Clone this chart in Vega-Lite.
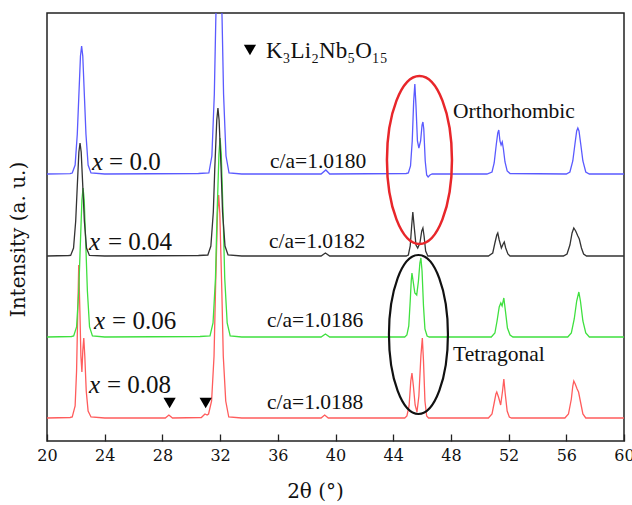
{
  "$schema": "https://vega.github.io/schema/vega-lite/v6.json",
  "width": 577,
  "height": 428,
  "autosize": {"type": "none"},
  "padding": {"left": 47, "top": 13, "right": 8, "bottom": 64},
  "background": "white",
  "config": {
    "view": {"stroke": "#222222", "strokeWidth": 1.5},
    "font": "Liberation Serif"
  },
  "datasets": {
    "red": [
      {"t":20,"i":23},{"t":21.6,"i":23.5},{"t":21.75,"i":24},{"t":21.95,"i":35},{"t":22.05,"i":70},{"t":22.12,"i":120},{"t":22.2,"i":176},{"t":22.28,"i":130},{"t":22.35,"i":85},{"t":22.42,"i":69},{"t":22.48,"i":90},{"t":22.55,"i":103},{"t":22.62,"i":85},{"t":22.72,"i":50},{"t":22.85,"i":30},{"t":23.05,"i":24},{"t":24,"i":23},{"t":28.2,"i":23},{"t":28.45,"i":26},{"t":28.7,"i":23},{"t":30.7,"i":23.5},{"t":30.95,"i":27},{"t":31.1,"i":26},{"t":31.2,"i":27},{"t":31.41,"i":40},{"t":31.58,"i":85},{"t":31.68,"i":150},{"t":31.82,"i":228},{"t":31.9,"i":246},{"t":31.98,"i":228},{"t":32.12,"i":150},{"t":32.22,"i":85},{"t":32.39,"i":40},{"t":32.6,"i":24},{"t":33.5,"i":23},{"t":39.0,"i":23},{"t":39.25,"i":26},{"t":39.5,"i":23},{"t":44.8,"i":23},{"t":44.95,"i":25},{"t":45.1,"i":35},{"t":45.22,"i":60},{"t":45.3,"i":68},{"t":45.4,"i":55},{"t":45.52,"i":36},{"t":45.65,"i":29},{"t":45.78,"i":45},{"t":45.92,"i":85},{"t":46.02,"i":103},{"t":46.1,"i":80},{"t":46.2,"i":40},{"t":46.32,"i":25},{"t":46.45,"i":23},{"t":50.6,"i":23},{"t":50.85,"i":27},{"t":51.0,"i":38},{"t":51.12,"i":47},{"t":51.18,"i":49},{"t":51.3,"i":44},{"t":51.45,"i":36},{"t":51.58,"i":50},{"t":51.67,"i":62},{"t":51.76,"i":48},{"t":51.9,"i":30},{"t":52.05,"i":24},{"t":52.2,"i":23},{"t":55.9,"i":23},{"t":56.15,"i":27},{"t":56.35,"i":42},{"t":56.45,"i":55},{"t":56.52,"i":60},{"t":56.62,"i":57},{"t":56.75,"i":52},{"t":56.85,"i":49},{"t":57.0,"i":38},{"t":57.15,"i":27},{"t":57.35,"i":23},{"t":60,"i":23}
    ],
    "green": [
      {"t":20,"i":104},{"t":21.7,"i":104.5},{"t":21.85,"i":105},{"t":22.05,"i":114},{"t":22.2,"i":150},{"t":22.3,"i":192},{"t":22.42,"i":241},{"t":22.5,"i":253},{"t":22.58,"i":241},{"t":22.7,"i":192},{"t":22.8,"i":150},{"t":22.95,"i":114},{"t":23.15,"i":105},{"t":24,"i":104},{"t":30.6,"i":104.5},{"t":31.3,"i":105},{"t":31.51,"i":118},{"t":31.68,"i":163},{"t":31.78,"i":221},{"t":31.92,"i":287},{"t":32.0,"i":303},{"t":32.08,"i":287},{"t":32.22,"i":221},{"t":32.32,"i":163},{"t":32.49,"i":118},{"t":32.7,"i":105},{"t":33.5,"i":104},{"t":39.0,"i":104},{"t":39.3,"i":107},{"t":39.6,"i":104},{"t":44.8,"i":104},{"t":44.95,"i":106},{"t":45.08,"i":115},{"t":45.18,"i":140},{"t":45.25,"i":160},{"t":45.3,"i":168},{"t":45.38,"i":160},{"t":45.5,"i":148},{"t":45.63,"i":146},{"t":45.75,"i":160},{"t":45.85,"i":178},{"t":45.92,"i":183},{"t":46.0,"i":170},{"t":46.1,"i":135},{"t":46.2,"i":112},{"t":46.35,"i":105},{"t":46.5,"i":104},{"t":50.8,"i":104},{"t":51.05,"i":108},{"t":51.2,"i":120},{"t":51.35,"i":134},{"t":51.46,"i":138},{"t":51.55,"i":135},{"t":51.67,"i":143},{"t":51.78,"i":130},{"t":51.92,"i":113},{"t":52.1,"i":106},{"t":52.3,"i":104},{"t":56.1,"i":104},{"t":56.35,"i":108},{"t":56.55,"i":122},{"t":56.72,"i":140},{"t":56.87,"i":149},{"t":56.98,"i":140},{"t":57.15,"i":120},{"t":57.35,"i":108},{"t":57.6,"i":104},{"t":60,"i":104}
    ],
    "black": [
      {"t":20,"i":185},{"t":21.5,"i":185.5},{"t":21.64,"i":185.6},{"t":21.84,"i":193},{"t":21.99,"i":220},{"t":22.09,"i":252},{"t":22.21,"i":289},{"t":22.29,"i":298},{"t":22.37,"i":289},{"t":22.49,"i":252},{"t":22.59,"i":220},{"t":22.74,"i":193},{"t":22.94,"i":185.6},{"t":24,"i":185},{"t":30.5,"i":185.5},{"t":31.15,"i":186},{"t":31.36,"i":195},{"t":31.53,"i":229},{"t":31.63,"i":272},{"t":31.77,"i":321},{"t":31.85,"i":333},{"t":31.93,"i":321},{"t":32.07,"i":272},{"t":32.17,"i":229},{"t":32.34,"i":195},{"t":32.55,"i":186},{"t":33.5,"i":185},{"t":39.0,"i":185},{"t":39.3,"i":188},{"t":39.6,"i":185},{"t":44.9,"i":185},{"t":45.05,"i":186},{"t":45.18,"i":195},{"t":45.28,"i":215},{"t":45.36,"i":229},{"t":45.45,"i":215},{"t":45.58,"i":196},{"t":45.7,"i":193},{"t":45.85,"i":198},{"t":45.98,"i":210},{"t":46.06,"i":213},{"t":46.14,"i":205},{"t":46.25,"i":190},{"t":46.4,"i":185},{"t":50.6,"i":185},{"t":50.9,"i":188},{"t":51.05,"i":198},{"t":51.18,"i":206},{"t":51.25,"i":208},{"t":51.35,"i":201},{"t":51.5,"i":193},{"t":51.62,"i":197},{"t":51.7,"i":199},{"t":51.8,"i":193},{"t":51.95,"i":187},{"t":52.1,"i":185},{"t":55.8,"i":185},{"t":56.05,"i":187},{"t":56.25,"i":196},{"t":56.4,"i":208},{"t":56.52,"i":213},{"t":56.65,"i":210},{"t":56.8,"i":205},{"t":56.9,"i":202},{"t":57.05,"i":193},{"t":57.2,"i":187},{"t":57.4,"i":185},{"t":60,"i":185}
    ],
    "blue": [
      {"t":20,"i":267},{"t":21.6,"i":267.3},{"t":21.75,"i":268},{"t":21.95,"i":276},{"t":22.1,"i":307},{"t":22.2,"i":342.5},{"t":22.32,"i":385},{"t":22.4,"i":395},{"t":22.48,"i":385},{"t":22.6,"i":342.5},{"t":22.7,"i":307},{"t":22.85,"i":276},{"t":23.05,"i":268},{"t":24,"i":267},{"t":30.5,"i":267.5},{"t":31.22,"i":268},{"t":31.43,"i":285},{"t":31.6,"i":347},{"t":31.7,"i":420},{"t":31.84,"i":506},{"t":31.92,"i":527},{"t":32.0,"i":506},{"t":32.14,"i":420},{"t":32.24,"i":347},{"t":32.41,"i":285},{"t":32.62,"i":268},{"t":33.5,"i":267},{"t":39.0,"i":267},{"t":39.33,"i":271},{"t":39.6,"i":267},{"t":44.9,"i":267.5},{"t":45.05,"i":268},{"t":45.2,"i":275},{"t":45.32,"i":300},{"t":45.42,"i":340},{"t":45.5,"i":357},{"t":45.58,"i":335},{"t":45.68,"i":300},{"t":45.78,"i":293},{"t":45.9,"i":300},{"t":46.0,"i":316},{"t":46.06,"i":319},{"t":46.12,"i":312},{"t":46.22,"i":280},{"t":46.32,"i":266},{"t":46.42,"i":264},{"t":46.55,"i":266},{"t":46.7,"i":267},{"t":50.5,"i":267},{"t":50.85,"i":269},{"t":51.0,"i":278},{"t":51.15,"i":297},{"t":51.25,"i":308},{"t":51.32,"i":311},{"t":51.4,"i":300},{"t":51.48,"i":296},{"t":51.56,"i":299},{"t":51.64,"i":292},{"t":51.75,"i":279},{"t":51.9,"i":270},{"t":52.1,"i":267.5},{"t":56.0,"i":267},{"t":56.25,"i":269},{"t":56.45,"i":280},{"t":56.6,"i":297},{"t":56.72,"i":310},{"t":56.8,"i":313},{"t":56.88,"i":310},{"t":57.0,"i":297},{"t":57.15,"i":280},{"t":57.35,"i":269},{"t":57.6,"i":267},{"t":60,"i":267}
    ],
    "xvar": [
      {"t":23.12,"i":279,"txt":"x"},{"t":22.91,"i":199,"txt":"x"},{"t":23.26,"i":120,"txt":"x"},{"t":22.91,"i":56,"txt":"x"}
    ],
    "xval": [
      {"t":24.3,"i":279,"txt":"= 0.0"},{"t":24.23,"i":199,"txt":"= 0.04"},{"t":24.51,"i":120,"txt":"= 0.06"},{"t":24.16,"i":56,"txt":"= 0.08"}
    ],
    "notes": [
      {"t":35.46,"i":279,"txt":"c/a=1.0180"},{"t":35.39,"i":199,"txt":"c/a=1.0182"},{"t":35.25,"i":120,"txt":"c/a=1.0186"},{"t":35.25,"i":38,"txt":"c/a=1.0188"},
      {"t":48.15,"i":329,"txt":"Orthorhombic"},{"t":48.15,"i":86,"txt":"Tetragonal"}
    ],
    "formula": [{"t":35.18,"i":383,"txt":"K₃Li₂Nb₅O₁₅"}],
    "tri": [{"t":34.07,"i":391},{"t":28.5,"i":38},{"t":31.0,"i":38}],
    "ellRed": [{"t":45.82,"i":281}],
    "ellBlack": [{"t":45.75,"i":106.5}]
  },
  "layer": [
    {
      "data": {"name": "red"},
      "mark": {"type": "line", "color": "#ff5c5c", "strokeWidth": 1.3, "clip": true},
      "encoding": {
        "x": {"field": "t", "type": "quantitative", "scale": {"domain": [20, 60], "nice": false, "zero": false},
          "axis": {"title": "2θ (°)", "values": [20,22,24,26,28,30,32,34,36,38,40,42,44,46,48,50,52,54,56,58,60],
            "labelExpr": "datum.value % 4 === 0 ? datum.label : ''", "labelOverlap": false, "labelFlush": false,
            "grid": false, "domain": false, "tickColor": "#222222", "tickWidth": 1.3,
            "tickSize": {"condition": {"test": "datum.value % 4 === 0", "value": -7}, "value": -4},
            "labelFont": "DejaVu Serif", "labelFontSize": 16, "labelColor": "#111111", "labelPadding": 13,
            "titleFont": "DejaVu Serif", "titleFontSize": 20, "titleFontWeight": "normal", "titleColor": "#111111",
            "titleX": 268, "titleY": 50, "titleBaseline": "middle"}},
        "y": {"field": "i", "type": "quantitative", "scale": {"domain": [0, 428], "nice": false, "zero": false},
          "axis": {"title": "Intensity (a. u.)", "ticks": false, "labels": false, "domain": false, "grid": false,
            "titleFont": "DejaVu Serif", "titleFontSize": 20, "titleFontWeight": "normal", "titleColor": "#111111",
            "titleX": -29, "titleY": 226, "titleBaseline": "middle"}}
      }
    },
    {
      "data": {"name": "green"},
      "mark": {"type": "line", "color": "#3fe03f", "strokeWidth": 1.3, "clip": true},
      "encoding": {"x": {"field": "t", "type": "quantitative"}, "y": {"field": "i", "type": "quantitative"}}
    },
    {
      "data": {"name": "black"},
      "mark": {"type": "line", "color": "#333333", "strokeWidth": 1.3, "clip": true},
      "encoding": {"x": {"field": "t", "type": "quantitative"}, "y": {"field": "i", "type": "quantitative"}}
    },
    {
      "data": {"name": "blue"},
      "mark": {"type": "line", "color": "#5a5aff", "strokeWidth": 1.3, "clip": true},
      "encoding": {"x": {"field": "t", "type": "quantitative"}, "y": {"field": "i", "type": "quantitative"}}
    },
    {
      "data": {"name": "ellRed"},
      "mark": {"type": "point", "shape": "M0,-1C0.2137,-1 0.387,-0.5523 0.387,0C0.387,0.5523 0.2137,1 0,1C-0.2137,1 -0.387,0.5523 -0.387,0C-0.387,-0.5523 -0.2137,-1 0,-1Z",
        "size": 28224, "filled": false, "stroke": "#e8262a", "strokeWidth": 2.5, "opacity": 1},
      "encoding": {"x": {"field": "t", "type": "quantitative"}, "y": {"field": "i", "type": "quantitative"}}
    },
    {
      "data": {"name": "ellBlack"},
      "mark": {"type": "point", "shape": "M0,-1C0.2049,-1 0.371,-0.5523 0.371,0C0.371,0.5523 0.2049,1 0,1C-0.2049,1 -0.371,0.5523 -0.371,0C-0.371,-0.5523 -0.2049,-1 0,-1Z",
        "size": 25281, "filled": false, "stroke": "#111111", "strokeWidth": 2.2, "opacity": 1},
      "encoding": {"x": {"field": "t", "type": "quantitative"}, "y": {"field": "i", "type": "quantitative"}}
    },
    {
      "data": {"name": "tri"},
      "mark": {"type": "point", "shape": "triangle-down", "filled": true, "color": "#000000", "size": 150, "opacity": 1},
      "encoding": {"x": {"field": "t", "type": "quantitative"}, "y": {"field": "i", "type": "quantitative"}}
    },
    {
      "data": {"name": "xvar"},
      "mark": {"type": "text", "align": "left", "baseline": "middle", "font": "Liberation Serif", "fontSize": 25, "fontStyle": "italic", "color": "#111111"},
      "encoding": {"x": {"field": "t", "type": "quantitative"}, "y": {"field": "i", "type": "quantitative"}, "text": {"field": "txt"}}
    },
    {
      "data": {"name": "xval"},
      "mark": {"type": "text", "align": "left", "baseline": "middle", "font": "Liberation Serif", "fontSize": 25, "color": "#111111"},
      "encoding": {"x": {"field": "t", "type": "quantitative"}, "y": {"field": "i", "type": "quantitative"}, "text": {"field": "txt"}}
    },
    {
      "data": {"name": "notes"},
      "mark": {"type": "text", "align": "left", "baseline": "middle", "font": "Liberation Serif", "fontSize": 21.5, "color": "#111111"},
      "encoding": {"x": {"field": "t", "type": "quantitative"}, "y": {"field": "i", "type": "quantitative"}, "text": {"field": "txt"}}
    },
    {
      "data": {"name": "formula"},
      "mark": {"type": "text", "align": "left", "baseline": "alphabetic", "font": "Liberation Serif", "fontSize": 23, "color": "#111111"},
      "encoding": {"x": {"field": "t", "type": "quantitative"}, "y": {"field": "i", "type": "quantitative"}, "text": {"field": "txt"}}
    }
  ]
}
